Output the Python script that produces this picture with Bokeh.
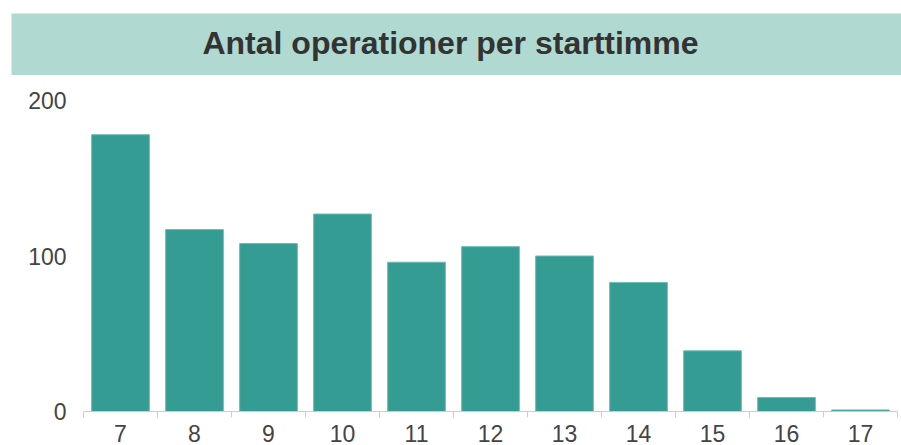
from bokeh.plotting import figure
from bokeh.layouts import column
from bokeh.models import Range1d, FixedTicker, LinearAxis, ColumnDataSource
from bokeh.core.properties import value
from bokeh.embed import file_html
from bokeh.resources import INLINE

# ---- data ----
hours = [7, 8, 9, 10, 11, 12, 13, 14, 15, 16, 17]
counts = [178, 117, 108, 127, 96, 106, 100, 83, 39, 9, 1]
y_ticks = [0, 100, 200]
title_text = "Antal operationer per starttimme"

FONT = "Liberation Sans"
BAR_FILL = "#349c93"
BAR_LINE = "#6dbcb2"
BAND = "#b0d9d1"
LABEL = "#444444"
AXIS = "#cccccc"

# ---- header band ----
h = figure(width=901, height=75, x_range=Range1d(11, 901), y_range=Range1d(0, 62),
           x_axis_location=None, y_axis_location=None,
           min_border_left=11, min_border_right=0, min_border_top=13, min_border_bottom=0,
           background_fill_color=BAND, border_fill_color="white",
           outline_line_color=None, toolbar_location=None, output_backend="svg")
h.frame_align = False
h.grid.grid_line_color = None
h.text(x=[450], y=[33], text=[title_text], text_align="center", text_baseline="middle",
       text_font=value(FONT), text_font_style="bold", text_font_size="32px",
       text_color="#333333")

# ---- main chart ----
src = ColumnDataSource(data=dict(x=hours, top=counts))
p = figure(width=901, height=370,
           x_range=Range1d(hours[0] - 0.5, hours[-1] + 0.5), y_range=Range1d(0, 200),
           x_axis_location=None,
           min_border_left=83, min_border_right=4, min_border_top=25, min_border_bottom=34,
           outline_line_color=None, toolbar_location=None, output_backend="svg")
p.frame_align = False
p.grid.grid_line_color = None

p.vbar(x="x", top="top", width=0.78, source=src,
       fill_color=BAR_FILL, line_color=BAR_LINE, line_width=1)

# y axis
p.yaxis.ticker = FixedTicker(ticks=y_ticks)
p.yaxis.axis_line_color = None
p.yaxis.major_tick_line_color = None
p.yaxis.minor_tick_line_color = None
p.yaxis.major_tick_out = 0
p.yaxis.major_tick_in = 0
p.yaxis.major_label_standoff = 17
p.yaxis.major_label_text_font = FONT
p.yaxis.major_label_text_font_size = "23px"
p.yaxis.major_label_text_color = LABEL

# x axis: labels at category centres, tick marks (minor) at category boundaries
bounds = [hh - 0.5 for hh in hours] + [hours[-1] + 0.5]
xax = LinearAxis(ticker=FixedTicker(ticks=hours, minor_ticks=bounds),
                 axis_line_color=AXIS,
                 major_tick_line_color=None, major_tick_out=0, major_tick_in=0,
                 minor_tick_line_color=AXIS, minor_tick_out=6, minor_tick_in=0,
                 major_label_standoff=7,
                 major_label_text_font=FONT, major_label_text_font_size="23px",
                 major_label_text_color=LABEL)
p.add_layout(xax, "below")

layout = column(h, p, spacing=0)
open("out.html", "w").write(file_html(layout, INLINE))
